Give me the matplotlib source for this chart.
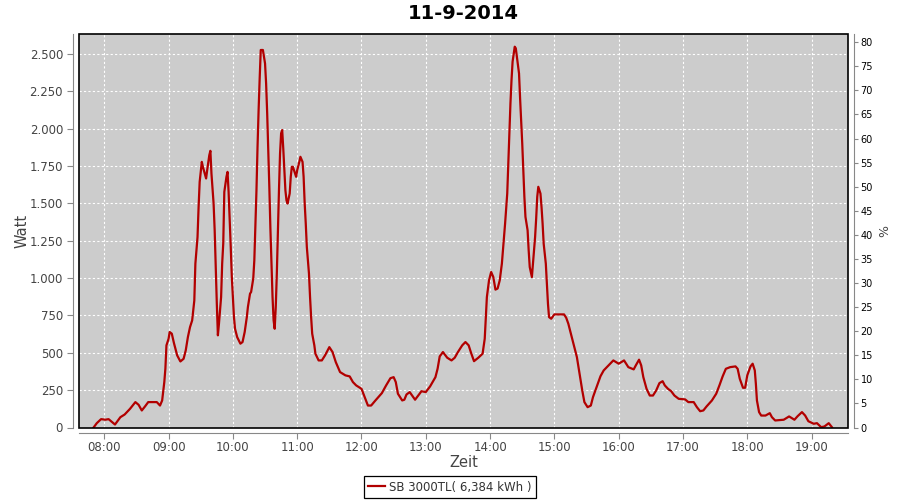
"""Tagesverlauf SB 3000TL, 11-9-2014."""
import matplotlib
matplotlib.use("Agg")
import matplotlib.pyplot as plt
from matplotlib.patches import Rectangle
from matplotlib.ticker import FuncFormatter

TITLE = "11-9-2014"
SERIES_LABEL = "SB 3000TL( 6,384 kWh )"

times = [
    "07:50", "07:53", "07:57", "08:01", "08:04", "08:10", "08:15", "08:19", "08:24", "08:29",
    "08:32", "08:35", "08:38", "08:41", "08:49", "08:52", "08:54", "08:56", "08:57", "08:58",
    "09:00", "09:01", "09:03", "09:05", "09:08", "09:11", "09:14", "09:16", "09:18", "09:20",
    "09:22", "09:24", "09:25", "09:27", "09:28", "09:29", "09:31", "09:32", "09:35", "09:36",
    "09:38", "09:39", "09:40", "09:42", "09:43", "09:44", "09:45", "09:46", "09:47", "09:49",
    "09:50", "09:51", "09:52", "09:54", "09:55", "09:56", "09:57", "09:58", "09:59", "10:01",
    "10:02", "10:04", "10:07", "10:09", "10:11", "10:13", "10:14", "10:16", "10:17", "10:19",
    "10:20", "10:21", "10:22", "10:23", "10:24", "10:25", "10:26", "10:28", "10:29", "10:30",
    "10:31", "10:32", "10:33", "10:34", "10:35", "10:36", "10:37", "10:38", "10:39", "10:40",
    "10:41", "10:42", "10:43", "10:44", "10:45", "10:46", "10:47", "10:48", "10:49", "10:50",
    "10:51", "10:53", "10:54", "10:55", "10:56", "10:58", "10:59", "11:00", "11:02", "11:03",
    "11:05", "11:06", "11:07", "11:08", "11:09", "11:11", "11:12", "11:13", "11:14", "11:16",
    "11:17", "11:20", "11:23", "11:26", "11:30", "11:33", "11:36", "11:40", "11:45", "11:49",
    "11:52", "11:55", "12:00", "12:03", "12:06", "12:09", "12:13", "12:19", "12:23", "12:27",
    "12:30", "12:32", "12:34", "12:38", "12:40", "12:42", "12:45", "12:50", "12:53", "12:56",
    "13:00", "13:04", "13:09", "13:11", "13:13", "13:16", "13:20", "13:24", "13:27", "13:30",
    "13:34", "13:37", "13:40", "13:42", "13:45", "13:49", "13:53", "13:55", "13:56", "13:57",
    "13:59", "14:01", "14:03", "14:05", "14:07", "14:09", "14:11", "14:12", "14:14", "14:16",
    "14:17", "14:18", "14:19", "14:20", "14:21", "14:23", "14:24", "14:25", "14:27", "14:28",
    "14:29", "14:30", "14:31", "14:32", "14:33", "14:35", "14:36", "14:37", "14:39", "14:40",
    "14:42", "14:43", "14:44", "14:45", "14:47", "14:48", "14:49", "14:50", "14:52", "14:53",
    "14:54", "14:55", "14:57", "15:00", "15:05", "15:09", "15:11", "15:13", "15:15", "15:17",
    "15:19", "15:21", "15:24", "15:26", "15:28", "15:31", "15:34", "15:36", "15:40", "15:43",
    "15:46", "15:49", "15:52", "15:55", "16:00", "16:05", "16:09", "16:14", "16:16", "16:19",
    "16:21", "16:23", "16:26", "16:29", "16:32", "16:35", "16:38", "16:41", "16:43", "16:46",
    "16:49", "16:52", "16:56", "17:02", "17:05", "17:10", "17:13", "17:16", "17:19", "17:22",
    "17:27", "17:31", "17:34", "17:37", "17:40", "17:44", "17:49", "17:51", "17:53", "17:56",
    "17:58", "18:00", "18:03", "18:05", "18:07", "18:08", "18:09", "18:11", "18:13", "18:17",
    "18:21", "18:23", "18:26", "18:34", "18:39", "18:44", "18:47", "18:51", "18:54", "18:57",
    "19:02", "19:05", "19:09", "19:12", "19:16", "19:19",
]

watt = [
    0, 29, 56, 52, 56, 20, 69, 87, 125, 170,
    152, 114, 141, 170, 170, 147, 181, 304, 393, 550,
    594, 639, 628, 565, 483, 442, 460, 516, 605, 672,
    717, 850, 1097, 1275, 1476, 1644, 1778, 1745, 1667, 1722,
    1823, 1852, 1700, 1499, 1320, 1074, 829, 617, 695, 873,
    1097, 1231, 1577, 1678, 1711, 1577, 1399, 1208, 1007, 739,
    661, 605, 561, 572, 639, 739, 806, 896, 907, 997,
    1119, 1342, 1588, 1880, 2125, 2337, 2527, 2527, 2482, 2437,
    2303, 2103, 1857, 1611, 1332, 1097, 873, 717, 661, 806,
    1030, 1320, 1588, 1834, 1969, 1991, 1868, 1722, 1588, 1521,
    1499, 1566, 1678, 1745, 1745, 1700, 1678, 1722, 1778, 1812,
    1778, 1678, 1499, 1365, 1208, 1030, 873, 739, 628, 550,
    494, 449, 449, 483, 538, 505, 438, 371, 349, 342,
    304, 282, 259, 203, 147, 147, 181, 230, 282, 330,
    337, 304, 226, 181, 186, 221, 237, 186, 214, 243,
    237, 275, 337, 393, 476, 505, 467, 449, 467, 505,
    550, 572, 550, 505, 444, 467, 494, 594, 739, 873,
    985, 1041, 1007, 923, 930, 985, 1097, 1186, 1365, 1566,
    1767, 1969, 2170, 2326, 2449, 2549, 2538, 2482, 2370, 2203,
    2058, 1901, 1722, 1544, 1410, 1320, 1186, 1074, 1007, 1097,
    1275, 1399, 1544, 1611, 1566, 1476, 1365, 1231, 1097, 963,
    829, 739, 728, 757, 757, 757, 735, 695, 639, 583,
    527, 471, 337, 248, 170, 136, 147, 203, 282, 343,
    382, 404, 427, 449, 427, 449, 404, 389, 416, 454,
    416, 337, 259, 214, 214, 248, 297, 310, 282, 259,
    243, 214, 192, 188, 170, 170, 136, 109, 114, 141,
    181, 226, 282, 342, 393, 404, 409, 393, 326, 266,
    266, 349, 409, 427, 382, 293, 181, 103, 80, 80,
    96, 69, 47, 52, 74, 52, 76, 103, 80, 42,
    25, 29, 2, 7, 29, 2,
]

hour_ticks = list(range(8, 20))
watt_ticks = list(range(0, 2501, 250))
pct_ticks = list(range(0, 81, 5))


def to_hours(s):
    h, m = s.split(":")
    return int(h) + int(m) / 60.0


x = [to_hours(s) for s in times]

plt.rcParams["font.family"] = "DejaVu Sans"

fig = plt.figure(figsize=(9, 5), dpi=100)
ax = fig.add_axes([0.0878, 0.145, 0.8544, 0.787])
ax.set_facecolor("#cccccc")

ax.plot(x, watt, color="#b20000", linewidth=1.6, label=SERIES_LABEL, zorder=3)

ax.set_xlim(7.607, 19.566)
ax.set_ylim(0, 2634)
ax.set_xticks(hour_ticks)
ax.set_xticklabels(["%02d:00" % h for h in hour_ticks])
ax.set_yticks(watt_ticks)
ax.yaxis.set_major_formatter(FuncFormatter(lambda v, p: f"{int(v):,}".replace(",", ".")))

ax.grid(True, color="white", linestyle=(0, (2, 2)), linewidth=0.8)
ax.set_axisbelow(True)

for side in ("top", "right"):
    ax.spines[side].set_visible(False)
for side in ("left", "bottom"):
    ax.spines[side].set_position(("outward", 4))
    ax.spines[side].set_color("#888888")
ax.tick_params(axis="both", colors="#888888", labelcolor="#444444",
               labelsize=8.5, length=4, width=0.8, direction="out")
ax.tick_params(axis="x", pad=1.5)

# plot outline
ax.add_patch(Rectangle((0, 0), 1, 1, transform=ax.transAxes, fill=False,
                       edgecolor="black", linewidth=1.2, clip_on=False, zorder=5))

ax.set_xlabel("Zeit", fontsize=10.5, color="#444444", labelpad=1)
ax.set_ylabel("Watt", fontsize=10.5, color="#444444", labelpad=0)
ax.set_title(TITLE, fontsize=14, fontweight="bold", pad=11)

ax2 = ax.twinx()
ax2.set_ylim(0, 81.7)
ax2.set_yticks(pct_ticks)
ax2.set_ylabel("%", fontsize=9, color="#444444", labelpad=4)
for side in ("top", "left", "bottom"):
    ax2.spines[side].set_visible(False)
ax2.spines["right"].set_position(("outward", 4))
ax2.spines["right"].set_color("#888888")
ax2.tick_params(axis="y", colors="#888888", labelcolor="black",
                labelsize=7, length=3, width=0.8, pad=2)

leg = fig.legend(loc="center", bbox_to_anchor=(0.5, 0.026), fontsize=8.5,
                 fancybox=False, edgecolor="black", framealpha=1,
                 handlelength=1.4, handletextpad=0.4, borderpad=0.35)
leg.get_frame().set_linewidth(0.9)
for t in leg.get_texts():
    t.set_color("#333333")

fig.savefig("out.png", dpi=100)
